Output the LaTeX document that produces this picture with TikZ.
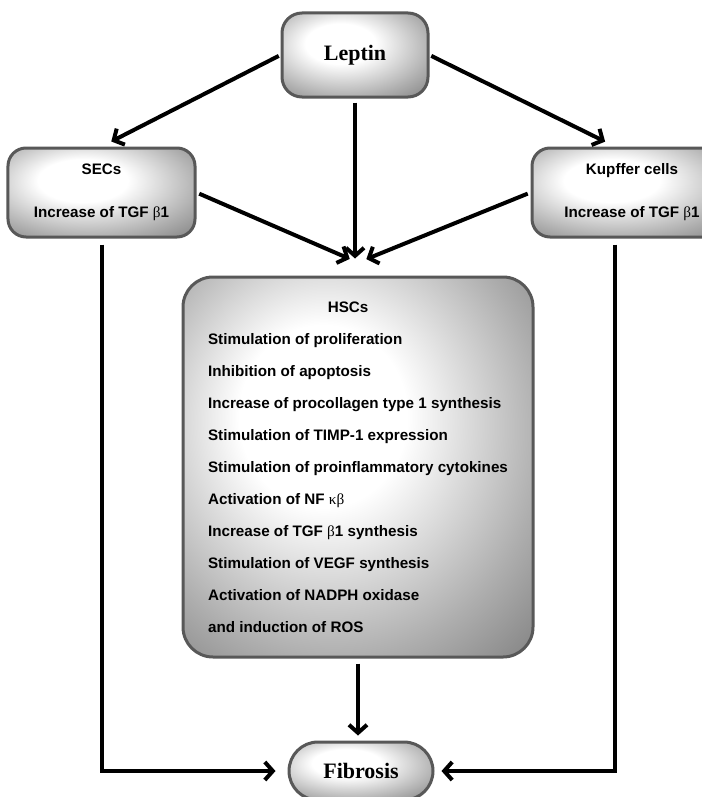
\documentclass[tikz,border=0pt]{standalone}
\usepackage{fontspec}
\setmainfont{Liberation Serif}
\setsansfont{Liberation Sans}
\usetikzlibrary{arrows.meta,calc,positioning}
\definecolor{rim}{RGB}{88,88,88}
\pgfdeclareradialshading{glossy}{\pgfpoint{-6bp}{8bp}}{color(0bp)=(white); color(12bp)=(white); color(30bp)=(black!32); color(48bp)=(black!62); color(72bp)=(black!76)}
\newcommand{\gbeta}{{\rmfamily\mdseries β}}
\newcommand{\gkappa}{{\rmfamily\mdseries κ}}

\begin{document}
\begin{tikzpicture}[x=1bp,y=-1bp,
  box/.style={draw=rim, line width=3bp, shading=glossy, align=center, inner sep=0pt,
    font=\sffamily\bfseries\fontsize{15.2bp}{43bp}\selectfont},
  bigbox/.style={box, font=\rmfamily\bfseries\fontsize{22bp}{26bp}\selectfont},
  link/.style={line width=4bp, -{Straight Barb[length=8bp,width=18bp]}}]
\useasboundingbox (0,0) rectangle (702,797);

\node[bigbox, minimum width=146bp, minimum height=84bp, rounded corners=20bp] (lep) at (355,55) {Leptin};
\node[box, minimum width=187bp, minimum height=89bp, rounded corners=18bp] (secs) at (101.5,192.5) {SECs\\Increase of TGF \gbeta1};
\node[box, minimum width=200bp, minimum height=89bp, rounded corners=18bp] (kup) at (632,192.5) {Kupffer cells\\Increase of TGF \gbeta1};
\node[box, minimum width=350bp, minimum height=380bp, rounded corners=30bp, align=left,
  font=\sffamily\bfseries\fontsize{15.2bp}{32bp}\selectfont] (hsc) at (358,467)
  {\makebox[280bp]{HSCs}\\
   Stimulation of proliferation\\
   Inhibition of apoptosis\\
   Increase of procollagen type 1 synthesis\\
   Stimulation of TIMP-1 expression\\
   Stimulation of proinflammatory cytokines\\
   Activation of NF \gkappa\gbeta\\
   Increase of TGF \gbeta1 synthesis\\
   Stimulation of VEGF synthesis\\
   Activation of NADPH oxidase\\
   and induction of ROS};
\node[bigbox, minimum width=144bp, minimum height=58bp, rounded corners=29bp] (fib) at (361,771) {Fibrosis};

% arrows out of leptin
\draw[link, shorten <=2bp, shorten >=11bp] (lep.west) -- (secs.north);
\draw[link, shorten <=2bp, shorten >=11bp] (lep.east) -- ([xshift=-17bp]kup.north);
\draw[link, shorten <=4bp, shorten >=17bp] (lep.south) -- (lep.south |- hsc.north);

% converging on the HSCs
\coordinate (meet) at ([yshift=13bp]hsc.north);
\draw[link, shorten <=3bp, shorten >=9bp] (secs.east) -- (meet);
\draw[link, shorten <=3bp, shorten >=9bp] (kup.west) -- (meet);

% down to fibrosis
\draw[link, shorten <=5bp, shorten >=5bp] (hsc.south) -- (hsc.south |- fib.north);
\draw[link, shorten <=6bp, shorten >=12bp] (secs.south) |- (fib.west);
\draw[link, shorten <=6bp, shorten >=7bp] ([xshift=-17bp]kup.south) |- (fib.east);
\end{tikzpicture}
\end{document}
